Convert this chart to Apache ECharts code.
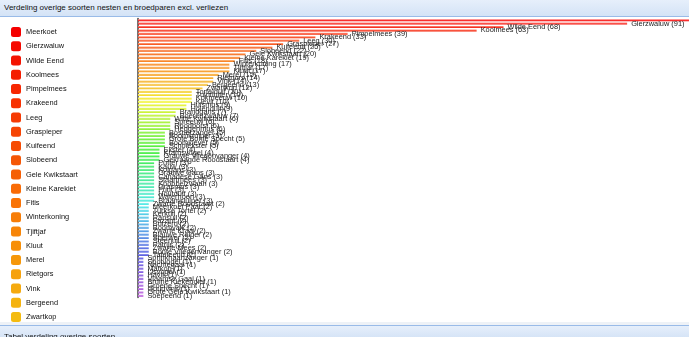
<!DOCTYPE html>
<html>
<head>
<meta charset="utf-8">
<script src="https://cdn.jsdelivr.net/npm/echarts@6/dist/echarts.min.js"></script>
<style>
html,body{margin:0;padding:0;width:689px;height:337px;overflow:hidden;background:#fff;font-family:"Liberation Sans",Arial,sans-serif;}
#hdr{position:absolute;left:0;top:0;width:689px;height:16px;background:linear-gradient(#e6effb,#d4e3f6);border-bottom:1px solid #99bbe8;z-index:5;}
#hdr span{position:absolute;left:4px;top:3px;font-size:8px;color:#111;}
#ftr{position:absolute;left:0;top:325px;width:689px;height:12px;background:linear-gradient(#e6effb,#d4e3f6);border-top:1px solid #99bbe8;z-index:5;}
#ftr span{position:absolute;left:4px;top:6px;font-size:8px;color:#111;}
#gap{position:absolute;left:0;top:322px;width:689px;height:3px;background:#eef2f7;z-index:4;}
#chart{position:absolute;left:0;top:0;width:900px;height:337px;}
</style>
</head>
<body>
<div id="hdr"><span>Verdeling overige soorten nesten en broedparen excl. verliezen</span></div>
<div id="chart"></div>
<div id="gap"></div>
<div id="ftr"><span>Tabel verdeling overige soorten</span></div>
<script>
const categories = [
"Meerkoet","Gierzwaluw","Wilde Eend","Koolmees","Pimpelmees","Krakeend","Leeg","Graspieper","Kuifeend","Slobeend",
"Gele Kwikstaart","Kleine Karekiet","Fitis","Winterkoning","Tjiftjaf","Kluut","Merel","Rietgors","Vink","Bergeend",
"Zwartkop","Tortelduif","Tuinfluiter","Kokmeeuw","Kievit","Huismus","Holenduif","Brandgans","Boerenzwaluw","Witte Kwikstaart",
"Spreeuw","Roodborst","Heggenmus","Bosrietzanger","Boomkruiper","Grote Bonte Specht","Boomklever","Scholekster","Ekster","Kramsvogel",
"Grauwe Vliegenvanger","Gekraagde Roodstaart","Putter","Kauw","Kolgans","Grauwe Gans","Canadese Gans","Staartmees","Knobbelzwaan","Grasmus",
"Fuut","Houtduif","Waterhoen","Braamsluiper","Zwarte Roodstaart","Meerkoet Paar","Turkse Tortel","Kerkuil","Ransuil","Fazant",
"Buizerd","Boomvalk","Zwarte Kraai","Blauwe Reiger","Sperwer","Steenuil","Patrijs","Zwarte Mees","Bonte Vliegenvanger","Tafeleend",
"Sprinkhaanzanger","Spotvogel","Nachtegaal","Matkop","IJsvogel","Havik","Vlaamse Gaai","Bruine Kiekendief","Groene Specht","Goudvink",
"Grote Gele Kwikstaart","Soepeend"
];
const values = [
110,91,68,63,39,33,30,27,25,22,
20,19,18,17,17,17,15,14,14,13,
12,10,10,10,10,9,9,7,7,6,
6,6,6,5,5,5,5,5,4,4,
4,4,3,3,3,3,3,3,3,3,
3,3,3,3,2,2,2,2,2,2,
2,2,2,2,2,2,2,2,2,2,
1,1,1,1,1,1,1,1,1,1,
1,1
];

function hueAt(i){
  if(i<=20) return i*2.25;
  return 45 + (i-20)*(285-45)/61;
}
function colorAt(i){
  const n=categories.length;
  const t=i/(n-1);
  const s=100 - t*35;
  const l=48 + t*12;
  return 'hsl('+hueAt(i).toFixed(1)+','+s.toFixed(0)+'%,'+l.toFixed(0)+'%)';
}
function lightAt(i){
  const n=categories.length;
  const t=i/(n-1);
  const s=100 - t*35;
  return 'hsl('+hueAt(i).toFixed(1)+','+s.toFixed(0)+'%,76%)';
}

const chart = echarts.init(document.getElementById('chart'), null, {renderer:'canvas'});
const FONT = '"Liberation Sans", Arial, sans-serif';
const series = categories.map((name,i)=>({
  name: name,
  type: 'bar',
  stack: 'all',
  barWidth: 2,
  color: colorAt(i),
  itemStyle: {
    color: new echarts.graphic.LinearGradient(0,0,0,1,[{offset:0,color:lightAt(i)},{offset:1,color:colorAt(i)}])
  },
  label: {
    show: true, position: 'right', distance: 4,
    formatter: '{a} ({c})',
    fontSize: 7.4, fontFamily: FONT, color: '#222'
  },
  emphasis: {disabled: true},
  animation: false,
  data: values.map((v,j)=> j===i ? v : null)
}));

chart.setOption({
  animation: false,
  legend: {
    orient: 'vertical', left: 6, top: 22, height: 5000,
    itemWidth: 10, itemHeight: 10, itemGap: 4.25,
    icon: 'roundRect', selectedMode: false,
    textStyle: {fontSize: 7.4, fontFamily: FONT, color: '#111'},
    data: categories.map((c,i)=>({name:c, itemStyle:{color:colorAt(i)}}))
  },
  grid: {left: 138, top: 18.5, height: 279, width: 645, containLabel: false},
  xAxis: {type: 'value', min: 0, max: 120, show: false, splitLine: {show:false}},
  yAxis: {
    type: 'category', data: categories, inverse: true,
    axisLabel: {show:false}, axisTick: {show:false},
    axisLine: {show:true, lineStyle:{color:'#444', width:1.5}}
  },
  series: series
});
</script>
</body>
</html>
